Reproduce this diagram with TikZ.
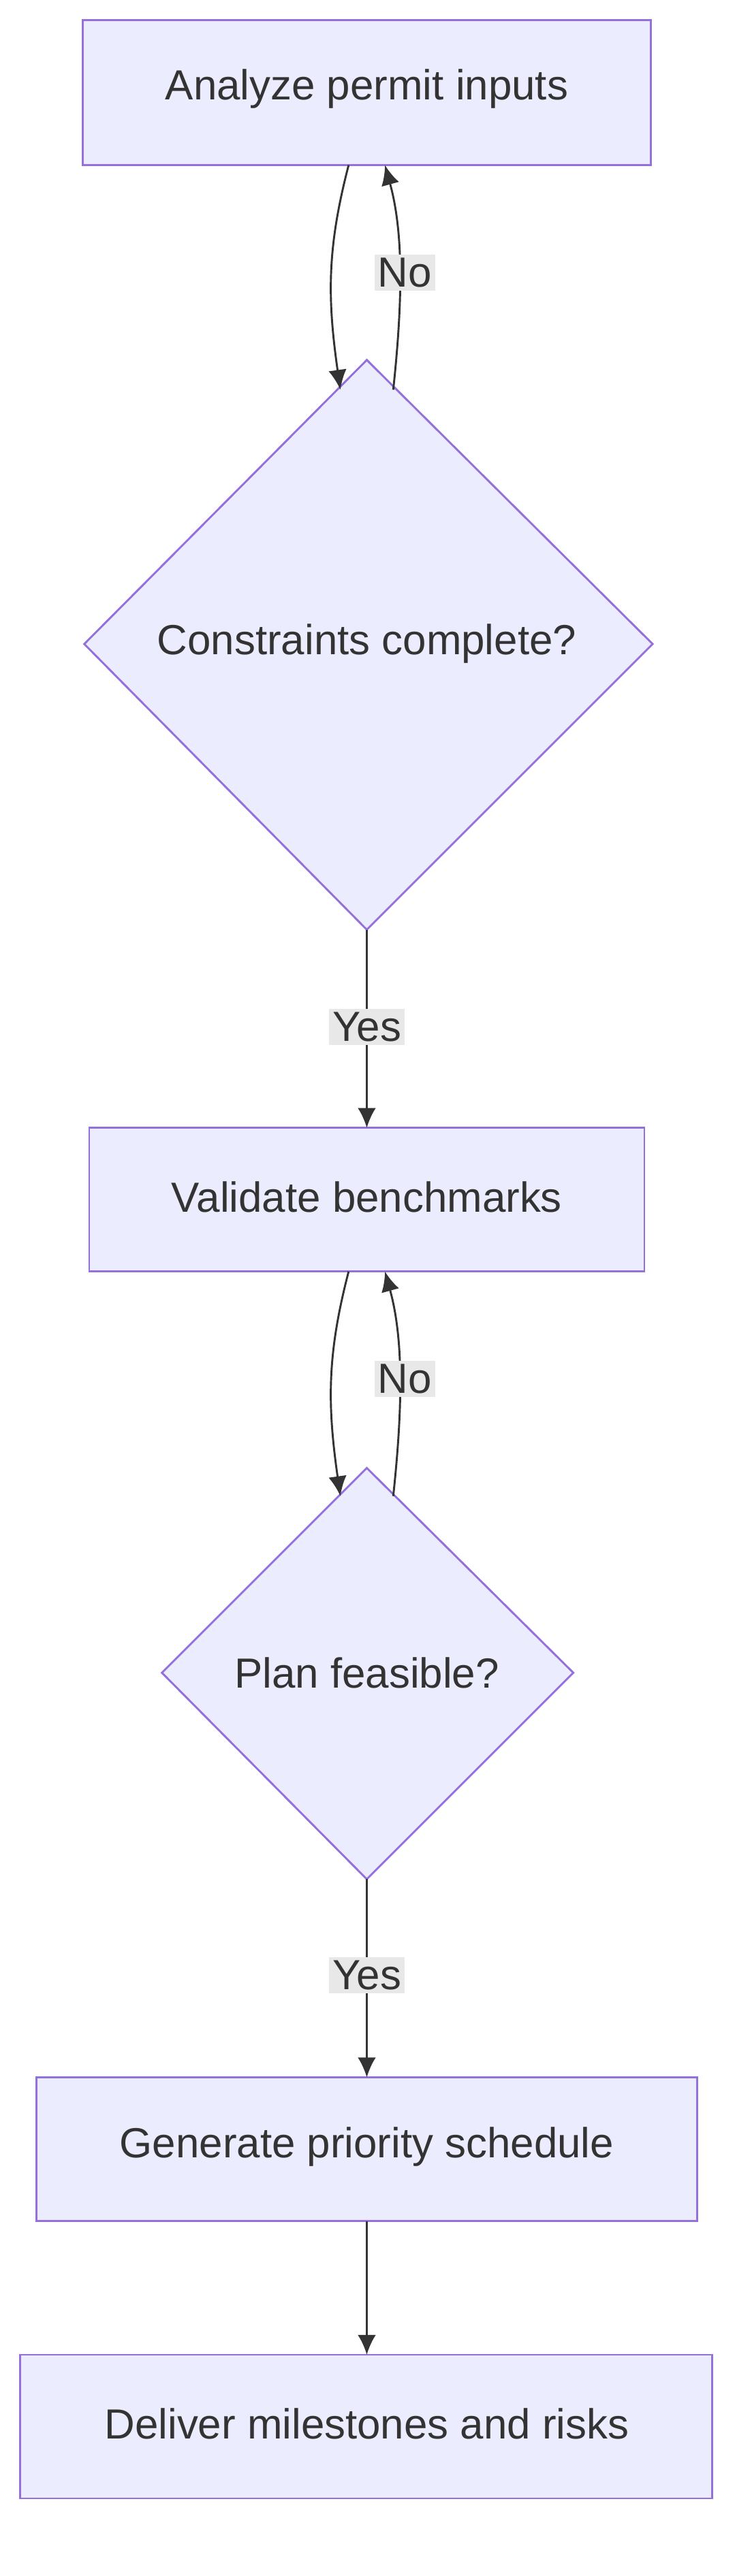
\documentclass[tikz,border=0pt]{standalone}
\usepackage{fontspec}
\setmainfont{Liberation Sans}
\usetikzlibrary{arrows.meta}
\definecolor{nodefill}{HTML}{ECECFF}
\definecolor{nodeline}{HTML}{9370DB}
\definecolor{txt}{HTML}{333333}
\definecolor{lblbg}{HTML}{E8E8E8}
\begin{document}
\begin{tikzpicture}[x=1pt,y=-1pt,
  every node/.style={font=\fontsize{25.5}{30}\selectfont, text=txt},
  boxnode/.style={draw=nodeline, fill=nodefill, line width=1.2pt},
  lbl/.style={fill=lblbg, inner sep=2pt},
  edge/.style={draw=txt, line width=1.2pt, -{Latex[length=12pt,width=11pt]}}]
\useasboundingbox (0,0) rectangle (455,1560);
\draw[boxnode] (50,12) rectangle (394,100);
\node (a) at (222,54) {Analyze permit inputs};
\draw[boxnode] (222,218) -- (395,390) -- (222,563) -- (51,390) -- cycle;
\node (b) at (222,390) {Constraints complete?};
\draw[boxnode] (54,683) rectangle (390,770);
\node (c) at (222,725) {Validate benchmarks};
\draw[boxnode] (222,889) -- (347,1013) -- (222,1138) -- (98,1013) -- cycle;
\node (d) at (222,1013) {Plan feasible?};
\draw[boxnode] (22,1258) rectangle (422,1345);
\node (e) at (222,1300) {Generate priority schedule};
\draw[boxnode] (12,1426) rectangle (431,1513);
\node (f) at (222,1468) {Deliver milestones and risks};
% loops 1
\coordinate (a1) at (211,100); \coordinate (b1) at (206,236);
\coordinate (b2) at (238,236); \coordinate (a2) at (233,100);
\draw[edge] (a1) .. controls (198,150) and (198,180) .. (b1);
\draw[edge] (b2) .. controls (244,180) and (244,140) .. (a2);
\node[lbl] (n1) at (245,165) {No};
\draw[edge] (222,563) -- (222,683);
\node[lbl] (y1) at (222,622) {Yes};
% loops 2
\coordinate (c1) at (211,770); \coordinate (d1) at (206,906);
\coordinate (d2) at (238,906); \coordinate (c2) at (233,770);
\draw[edge] (c1) .. controls (198,820) and (198,850) .. (d1);
\draw[edge] (d2) .. controls (244,850) and (244,810) .. (c2);
\node[lbl] (n2) at (245,835) {No};
\draw[edge] (222,1138) -- (222,1258);
\node[lbl] (y2) at (222,1196) {Yes};
\draw[edge] (222,1345) -- (222,1426);
\end{tikzpicture}
\end{document}
